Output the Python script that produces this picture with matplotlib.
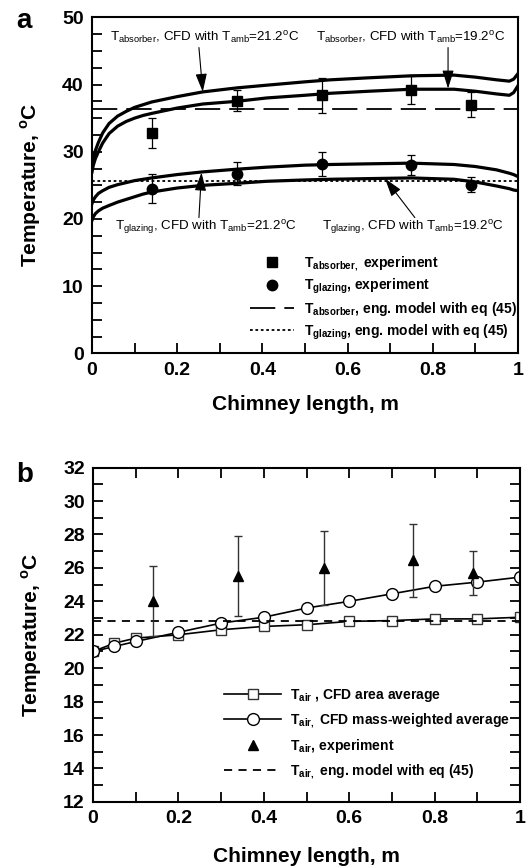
import matplotlib
matplotlib.use('Agg')
from matplotlib import pyplot as plt
from matplotlib.lines import Line2D
from matplotlib.ticker import MultipleLocator, FuncFormatter

plt.rcParams['font.family'] = ['Liberation Sans', 'DejaVu Sans']
plt.rcParams['mathtext.fontset'] = 'custom'
plt.rcParams['mathtext.rm'] = 'Liberation Sans'
plt.rcParams['mathtext.bf'] = 'Liberation Sans:bold'

# ---- panel a data ----
x_cfd = [0, 0.003, 0.008, 0.015, 0.025, 0.04, 0.06, 0.08, 0.1, 0.12, 0.14,
         0.2, 0.26, 0.34, 0.41, 0.5, 0.56, 0.65, 0.75, 0.85, 0.9, 0.95,
         0.98, 0.99, 1.0]
abs_cfd_212 = [27.5, 29.0, 30.2, 31.4, 32.8, 34.2, 35.3, 36.0, 36.6, 37.0, 37.4,
               38.2, 38.9, 39.5, 39.9, 40.4, 40.7, 41.0, 41.3, 41.4, 41.1, 40.7,
               40.5, 40.8, 41.6]
abs_cfd_192 = [27.0, 28.0, 29.0, 30.0, 31.3, 32.7, 33.8, 34.5, 35.0, 35.4, 35.7,
               36.5, 37.1, 37.5, 38.0, 38.4, 38.7, 39.0, 39.3, 39.3, 39.0, 38.6,
               38.4, 38.8, 39.8]
gl_cfd_212 = [22.3, 22.8, 23.3, 23.8, 24.2, 24.7, 25.1, 25.4, 25.7, 25.9, 26.1,
              26.6, 27.0, 27.4, 27.7, 28.0, 28.1, 28.2, 28.3, 28.1, 27.8, 27.3,
              26.8, 26.6, 26.3]
gl_cfd_192 = [19.8, 20.3, 20.8, 21.2, 21.6, 22.0, 22.5, 22.9, 23.3, 23.7, 24.0,
              24.6, 25.0, 25.3, 25.6, 25.8, 25.9, 26.0, 26.1, 25.9, 25.5, 24.9,
              24.5, 24.3, 24.2]

x_exp = [0.14, 0.34, 0.54, 0.75, 0.89]
abs_exp = [32.8, 37.6, 38.4, 39.2, 37.0]
abs_err = [2.2, 1.6, 2.6, 2.1, 1.9]
gl_exp = [24.5, 26.7, 28.2, 28.0, 25.1]
gl_err = [2.2, 1.7, 1.8, 1.5, 1.1]
abs_eng = 36.4
gl_eng = 25.7

# ---- panel b data ----
x_b = [0, 0.05, 0.1, 0.2, 0.3, 0.4, 0.5, 0.6, 0.7, 0.8, 0.9, 1.0]
air_area = [21.0, 21.5, 21.8, 22.0, 22.3, 22.5, 22.6, 22.8, 22.85, 22.95, 22.95, 23.05]
air_mass = [21.0, 21.3, 21.6, 22.15, 22.7, 23.05, 23.6, 24.0, 24.45, 24.9, 25.15, 25.45]
air_exp = [24.0, 25.5, 26.0, 26.45, 25.7]
air_err = [2.1, 2.4, 2.2, 2.2, 1.3]
air_eng = 22.85

fig = plt.figure(figsize=(5.29, 8.66), dpi=100)
ax1 = fig.add_axes([0.174, 0.592, 0.805, 0.388])
ax2 = fig.add_axes([0.176, 0.074, 0.807, 0.386])

xfmt = FuncFormatter(lambda v, p: '%g' % round(v, 1))

def style(ax):
    for s in ax.spines.values():
        s.set_linewidth(1.5)
    ax.tick_params(which='both', direction='in', length=7, width=1.3,
                   labelsize=14, pad=6)
    for lab in ax.get_xticklabels() + ax.get_yticklabels():
        lab.set_fontweight('bold')

# ---------- panel a ----------
ax1.plot(x_cfd, abs_cfd_212, color='k', lw=2.3)
ax1.plot(x_cfd, abs_cfd_192, color='k', lw=2.3)
ax1.plot(x_cfd, gl_cfd_212, color='k', lw=2.3)
ax1.plot(x_cfd, gl_cfd_192, color='k', lw=2.3)
ax1.axhline(abs_eng, color='k', lw=1.3, dashes=(14, 5))
ax1.axhline(gl_eng, color='k', lw=1.3, dashes=(1.5, 1.5))
ax1.errorbar(x_exp, abs_exp, yerr=abs_err, fmt='s', color='k', ms=7,
             ecolor='k', elinewidth=0.9, capsize=3, capthick=0.9)
ax1.errorbar(x_exp, gl_exp, yerr=gl_err, fmt='o', color='k', ms=7.5,
             ecolor='k', elinewidth=0.9, capsize=3, capthick=0.9)

ax1.set_xlim(0, 1)
ax1.set_ylim(0, 50)
ax1.xaxis.set_major_locator(MultipleLocator(0.2))
ax1.xaxis.set_minor_locator(MultipleLocator(0.1))
ax1.yaxis.set_major_locator(MultipleLocator(10))
ax1.yaxis.set_minor_locator(MultipleLocator(2.5))
ax1.xaxis.set_major_formatter(xfmt)
style(ax1)
ax1.set_xlabel('Chimney length, m', fontsize=15, fontweight='bold', labelpad=12)
ax1.set_ylabel(r'Temperature, $^{\mathregular{o}}$C', fontsize=15,
               fontweight='bold', labelpad=14)

arrow = dict(arrowstyle='-|>,head_length=0.8,head_width=0.25', color='k',
             lw=0.8, mutation_scale=14, shrinkA=0, shrinkB=0)
tsize = 9.6
ax1.text(0.042, 46.9, r'T$_{\mathregular{absorber}}$, CFD with T$_{\mathregular{amb}}$=21.2$^{\mathregular{o}}$C',
         fontsize=tsize, va='center', ha='left')
ax1.text(0.527, 46.9, r'T$_{\mathregular{absorber}}$, CFD with T$_{\mathregular{amb}}$=19.2$^{\mathregular{o}}$C',
         fontsize=tsize, va='center', ha='left')
ax1.text(0.054, 18.8, r'T$_{\mathregular{glazing}}$, CFD with T$_{\mathregular{amb}}$=21.2$^{\mathregular{o}}$C',
         fontsize=tsize, va='center', ha='left')
ax1.text(0.541, 18.8, r'T$_{\mathregular{glazing}}$, CFD with T$_{\mathregular{amb}}$=19.2$^{\mathregular{o}}$C',
         fontsize=tsize, va='center', ha='left')
ax1.annotate('', xy=(0.26, 38.9), xytext=(0.251, 45.5), arrowprops=arrow)
ax1.annotate('', xy=(0.836, 39.4), xytext=(0.836, 45.5), arrowprops=arrow)
ax1.annotate('', xy=(0.257, 26.9), xytext=(0.251, 20.2), arrowprops=arrow)
ax1.annotate('', xy=(0.688, 26.0), xytext=(0.758, 20.2), arrowprops=arrow)

handles_a = [
    Line2D([], [], ls='none', marker='s', color='k', ms=7),
    Line2D([], [], ls='none', marker='o', color='k', ms=7.5),
    Line2D([], [], color='k', lw=1.3, dashes=(14, 5)),
    Line2D([], [], color='k', lw=1.3, dashes=(1.5, 1.5)),
]
labels_a = [
    r'T$_{\mathregular{absorber,}}$ experiment',
    r'T$_{\mathregular{glazing}}$, experiment',
    r'T$_{\mathregular{absorber}}$, eng. model with eq (45)',
    r'T$_{\mathregular{glazing}}$, eng. model with eq (45)',
]
ax1.legend(handles_a, labels_a, loc='upper left', bbox_to_anchor=(0.371, 0.295),
           frameon=False, borderpad=0, borderaxespad=0, handlelength=3.2,
           handletextpad=0.7, labelspacing=0.3,
           prop={'weight': 'bold', 'size': 10})

# ---------- panel b ----------
ax2.plot(x_b, air_area, color='k', lw=1.2, marker='s', ms=7.5,
         mfc='white', mec='#333333', mew=1.0)
ax2.plot(x_b, air_mass, color='k', lw=1.2, marker='o', ms=8.5,
         mfc='white', mec='k', mew=1.0)
ax2.axhline(air_eng, color='k', lw=1.3, dashes=(4.5, 3.5))
ax2.errorbar(x_exp, air_exp, yerr=air_err, fmt='^', color='k', ms=7.5,
             ecolor='#333333', elinewidth=1.0, capsize=3, capthick=1.0)

ax2.set_xlim(0, 1)
ax2.set_ylim(12, 32)
ax2.xaxis.set_major_locator(MultipleLocator(0.2))
ax2.xaxis.set_minor_locator(MultipleLocator(0.1))
ax2.yaxis.set_major_locator(MultipleLocator(2))
ax2.yaxis.set_minor_locator(MultipleLocator(1))
ax2.xaxis.set_major_formatter(xfmt)
ax2.tick_params(which='both', top=True, right=True)
style(ax2)
ax2.set_xlabel('Chimney length, m', fontsize=15, fontweight='bold', labelpad=14)
ax2.set_ylabel(r'Temperature, $^{\mathregular{o}}$C', fontsize=15,
               fontweight='bold', labelpad=14)

handles_b = [
    Line2D([], [], color='k', lw=1.2, marker='s', ms=7.5, mfc='white', mec='#333333'),
    Line2D([], [], color='k', lw=1.2, marker='o', ms=8.5, mfc='white', mec='k'),
    Line2D([], [], ls='none', marker='^', color='k', ms=7.5),
    Line2D([], [], color='k', lw=1.3, dashes=(4.5, 3.5)),
]
labels_b = [
    r'T$_{\mathregular{air}}$ , CFD area average',
    r'T$_{\mathregular{air,}}$ CFD mass-weighted average',
    r'T$_{\mathregular{air}}$, experiment',
    r'T$_{\mathregular{air,}}$ eng. model with eq (45)',
]
ax2.legend(handles_b, labels_b, loc='upper left', bbox_to_anchor=(0.307, 0.345),
           frameon=False, borderpad=0, borderaxespad=0, handlelength=4.1,
           handletextpad=0.65, labelspacing=0.55,
           prop={'weight': 'bold', 'size': 10})

fig.text(24 / 529, 1 - 21 / 866, 'a', fontsize=20, fontweight='bold', ha='center', va='center')
fig.text(25 / 529, 1 - 475 / 866, 'b', fontsize=20, fontweight='bold', ha='center', va='center')

fig.savefig('out.png', dpi=100)
